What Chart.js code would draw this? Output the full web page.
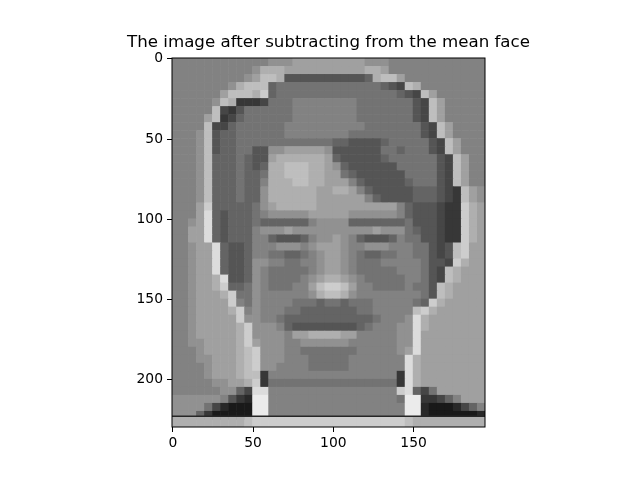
<!DOCTYPE html>
<html>
<head>
<meta charset="utf-8">
<title>Mean face difference</title>
<script src="https://cdn.jsdelivr.net/npm/chart.js@4.4.0/dist/chart.umd.min.js"></script>
<style>
  html, body { margin: 0; padding: 0; background: #fff; }
  #wrap { width: 640px; height: 480px; }
</style>
</head>
<body>
<div id="wrap"><canvas id="faceChart" width="640" height="480"></canvas></div>
<script>
// --- data ---
const chartTitle = 'The image after subtracting from the mean face';
const xTicks = [0, 50, 100, 150];
const yTicks = [0, 50, 100, 150, 200];
const imageWidth = 195;   // pixels of the face image
const imageHeight = 230;
const cellSize = 5;       // one cell = 5x5 image pixels

// grey level per cell, hex 0 (black) .. f (white), spaces only for reading
const faceRows = [
  '888888888888 999 aaaaaaaaa 999 888888888888',
  '8888888888 9 bbb aaaaaaaaaa bba 888888888888',
  '888888888 9a ccb 5555555555 6 bcc a 8888888888',
  '8888888 9 bccc 6 7777777777777 654cb 88888888',
  '888888 acccbd6 777777777777777 654ca 888888',
  '888889cb3334 777 88888888 7777777 54ca 88888',
  '88888c435 777777 88888888 7777777 54ca 88888',
  '8888ac346 777777 88888888 7777777 54ca 88888',
  '8888c446 777777 8888888888 7777777 54ca 8888',
  '8889c566 777777 88888888 777777777 54ca 8888',
  '8889c566 777777777777 6655556 77777 54ca 888',
  '8889c566 7755 99aaaaa9 555555 776777 54ca 888',
  '8889c666 7655 abbbbbba 6555556777777 54ca 88',
  '8889c666 7656 bbcccbba 96 555555 77777 54ca 88',
  '8889c666 7667 bbcccbba a76 555555 7777 54ca 88',
  '8889c666 7668 bbbccbba aa86 55555 6777 54ca 88',
  '8889c666 7669 bbbbbbaa bba86 55555 666 543ca9',
  '8889c666 7669 bbbbbbaa aaaa86 5555 666 543ca9',
  '888ad666 6679 abbbbbaa aaaaaaaa 86 555 433dba',
  '888ae656 6678 99999 aaaaa 999999 86 555 433dba',
  '889ae656 667 666666 8 9999 6666666 7 555 433dba',
  '88aae656 6689 99a99 9 9999 9 99a99 97 655 433dba',
  '88aae656 6688 65556 8 99a9 8 65556 8 77 55 433dba',
  '889aae6556 88 89998 9aaa9 8 89998 88 77 545cdaa',
  '889aae6556 88 77667 8 9aa9 8 76677 88 77 545cdaa',
  '889aae6556 99 88778 8 9aa9 8 77788 88 87 554dbaa',
  '889aae6556 98 77777 8 9aa9 8 77777 88 87 54cbaaa',
  '889aabe556 98 77778 9 abba 9 87777 78 87 54cbaaa',
  '889aabd667 98 77788 a cddc a 88777 78 77 5cbaaaa',
  '889aaabd77 98 88888 9 bccb 9 88888 88 87 5cbaaaa',
  '889aaaad87 98 88877 7 6776 7 77888 88 7 6 dbaaaaa',
  '889aaaabd8 98 8877 6666666 77888 88 cd baaaaaa',
  '889aaaaad9 9887 66666666666 788 89eb aaaaaaa',
  '889aaaaabd 9998 6555555556 7 888 99eb aaaaaaa',
  '889aaaaabd 99998 aabbbbaa 8 8888 99ea aaaaaaa',
  '8899aaaabd a999 8899999988 8888 99ea aaaaaaa',
  '8889aaaabc d999 88777777788 888 9aea aaaaaaa',
  '88899aaabc d999 88877777888 8888 eba aaaaaaa',
  '88889aaabc d99 8888777778888 888 eba aaaaaaa',
  '88889aaabc c3 8888888888888888 3eba aaaaaaa',
  '8888899aab d3 7777777777777777 3eba aaaaaaa',
  '88888899 64ee 8888888888888888 de647 aaaaaa',
  '9999998532ff 88888888888888887 ff 33468 aaa',
  '9999742111ff 88888888888888888 ff 21112468',
  '9996311111ff 88888888888888888 ff 21111112'
];
// light band under the dark line at the bottom of the image
const stripRow = 'bbbbbbbbb c ddddddddddddddddddd c bbbbbbbbb';
const stripTop = 222.8;

const cols = imageWidth / cellSize;

function grayOf(level) {
    const g = 10 + 15 * level;
    return 'rgb(' + g + ',' + g + ',' + g + ')';
}

// cells are placed with the chart's own x / y scales
const faceCells = {
    id: 'faceCells',
    beforeDatasetsDraw(chart) {
        const { ctx, chartArea: a, scales: { x, y } } = chart;
        ctx.save();
        ctx.beginPath();
        ctx.rect(a.left, a.top, a.width, a.height);
        ctx.clip();
        faceRows.forEach((row, r) => {
            const cells = row.replace(/ /g, '');
            const top = y.getPixelForValue(r * cellSize - 0.5);
            const bottom = y.getPixelForValue((r + 1) * cellSize - 0.5);
            for (let c = 0; c < cols; c++) {
                const left = x.getPixelForValue(c * cellSize - 0.5);
                const right = x.getPixelForValue((c + 1) * cellSize - 0.5);
                ctx.fillStyle = grayOf(parseInt(cells[c] || '8', 16));
                ctx.fillRect(left, top, right - left + 0.6, bottom - top + 0.6);
            }
        });
        const strip = stripRow.replace(/ /g, '');
        const sTop = y.getPixelForValue(stripTop);
        const sBottom = y.getPixelForValue(imageHeight - 0.5);
        for (let c = 0; c < cols; c++) {
            const left = x.getPixelForValue(c * cellSize - 0.5);
            const right = x.getPixelForValue((c + 1) * cellSize - 0.5);
            ctx.fillStyle = grayOf(parseInt(strip[c] || 'b', 16));
            ctx.fillRect(left, sTop, right - left + 0.6, sBottom - sTop);
        }
        ctx.restore();
    }
};

// frame on all four sides + title above the axes
const frameAndTitle = {
    id: 'frameAndTitle',
    afterDraw(chart) {
        const { ctx, chartArea: a } = chart;
        ctx.save();
        ctx.strokeStyle = '#000';
        ctx.lineWidth = 1;
        ctx.strokeRect(a.left, a.top, a.width, a.height);
        ctx.fillStyle = '#000';
        ctx.font = '16.67px "DejaVu Sans"';
        ctx.textAlign = 'center';
        ctx.textBaseline = 'alphabetic';
        ctx.fillText(chartTitle, (a.left + a.right) / 2, a.top - 11);
        ctx.restore();
    }
};

const tickFont = { family: 'DejaVu Sans', size: 13.89 };

new Chart(document.getElementById('faceChart'), {
    type: 'scatter',
    data: {
        datasets: [{
            // dark line above the bottom band
            data: [{ x: -0.5, y: stripTop }, { x: imageWidth - 0.5, y: stripTop }],
            showLine: true,
            borderColor: '#262626',
            borderWidth: 1.3,
            pointRadius: 0
        }]
    },
    options: {
        responsive: false,
        animation: false,
        devicePixelRatio: 1,
        layout: { padding: { top: 58, right: 155, left: 0, bottom: 0 } },
        plugins: { legend: { display: false }, tooltip: { enabled: false } },
        scales: {
            x: {
                type: 'linear',
                min: -0.5,
                max: imageWidth - 0.5,
                grid: { drawOnChartArea: false, drawTicks: true, tickLength: 5, tickColor: '#000' },
                border: { display: false },
                ticks: { color: '#000', font: tickFont, padding: 3, maxRotation: 0, autoSkip: false },
                afterBuildTicks: s => { s.ticks = xTicks.map(v => ({ value: v })); },
                afterFit: s => { s.height = 53; }
            },
            y: {
                type: 'linear',
                reverse: true,
                min: -0.5,
                max: imageHeight - 0.5,
                grid: { drawOnChartArea: false, drawTicks: true, tickLength: 5, tickColor: '#000' },
                border: { display: false },
                ticks: { color: '#000', font: tickFont, padding: 4, autoSkip: false },
                afterBuildTicks: s => { s.ticks = yTicks.map(v => ({ value: v })); },
                afterFit: s => { s.width = 172; }
            }
        }
    },
    plugins: [faceCells, frameAndTitle]
});
</script>
</body>
</html>
